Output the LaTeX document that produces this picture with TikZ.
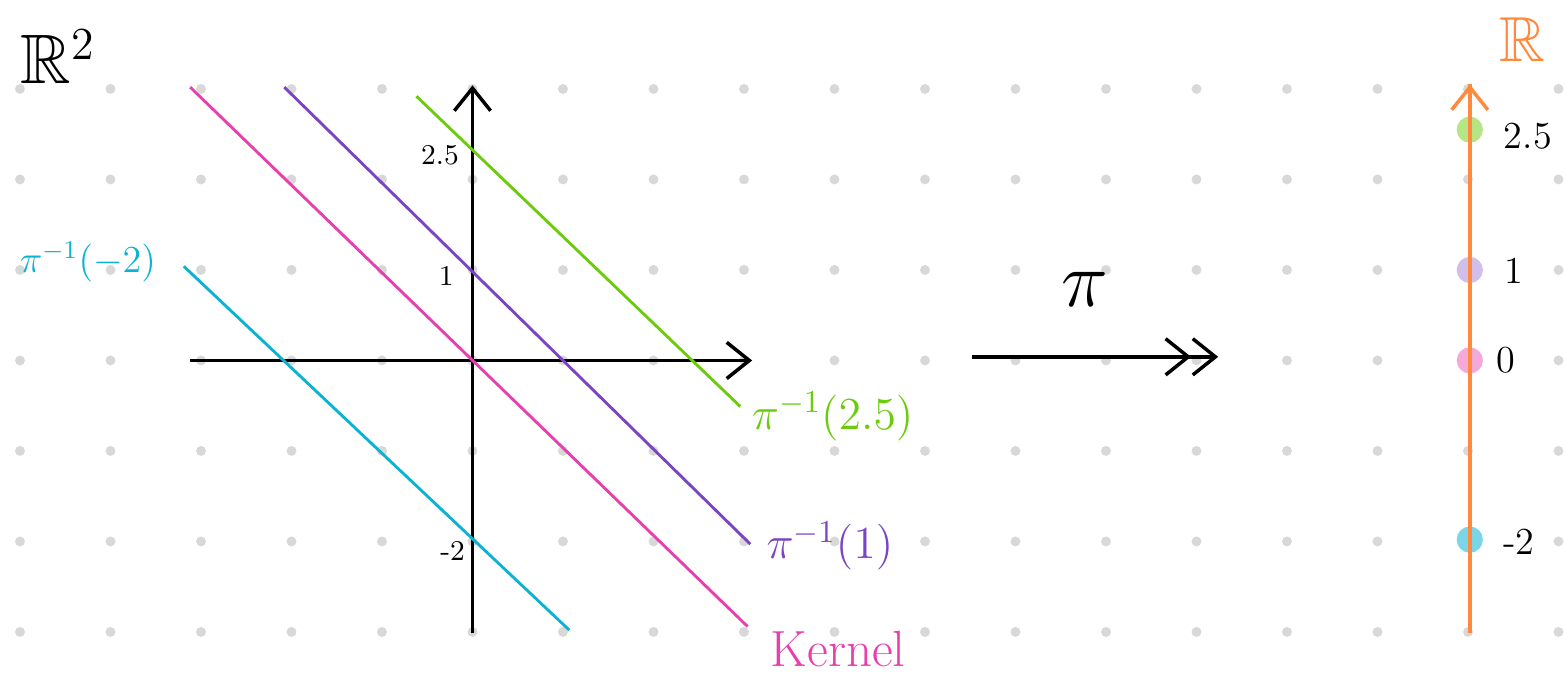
\documentclass[tikz,border=0pt]{standalone}
\usepackage{amssymb}
\usepackage{xcolor}
\usetikzlibrary{arrows.meta}
\definecolor{kernpink}{HTML}{E83FAE}
\definecolor{fibpurple}{HTML}{7B45C2}
\definecolor{fibgreen}{HTML}{6BCB0C}
\definecolor{fibcyan}{HTML}{0BB3D3}
\definecolor{lineorange}{HTML}{FF8A3D}
\definecolor{dotgray}{HTML}{D8D8D8}

\tikzset{
  axis/.style={line width=1.1pt, black, -{Straight Barb[length=2.5mm, width=4mm]}},
  fibre/.style={line width=0.9pt},
  tick/.style={font=\small},
  marker/.style={circle, minimum size=2.9mm, inner sep=0pt},
  value/.style={anchor=west, inner sep=0pt, font=\large},
}

\begin{document}
\begin{tikzpicture}
  \useasboundingbox (-5.221,-3.453) rectangle (12.083,3.983);

  % dot grid
  \foreach \x in {-5,...,12}
    \foreach \y in {-3,...,3}
      \fill[dotgray] (\x,\y) circle (0.055);

  % the plane
  \coordinate (xl) at (-3.12, 0);
  \coordinate (xr) at ( 3.09, 0);
  \coordinate (yb) at ( 0, -3.01);
  \coordinate (yt) at ( 0,  3.04);
  \draw[axis] (xl) -- (xr);
  \draw[axis] (yb) -- (yt);

  \coordinate (k1) at (-3.12,  3.02);
  \coordinate (k2) at ( 3.04, -2.94);
  \coordinate (p1) at (-2.08,  3.02);
  \coordinate (p2) at ( 3.07, -2.03);
  \coordinate (g1) at (-0.62,  2.92);
  \coordinate (g2) at ( 2.96, -0.51);
  \coordinate (c1) at (-3.19,  1.04);
  \coordinate (c2) at ( 1.07, -2.98);
  \draw[fibre, kernpink]  (k1) -- (k2);
  \draw[fibre, fibpurple] (p1) -- (p2);
  \draw[fibre, fibgreen]  (g1) -- (g2);
  \draw[fibre, fibcyan]   (c1) -- (c2);

  \node[anchor=west, inner sep=0pt] (r2) at (-5.0, 3.36) {\fontsize{22}{26}\selectfont$\mathbb{R}^2$};
  \node[tick] (t25) at (-0.36,  2.27) {2.5};
  \node[tick] (t1)  at (-0.29,  0.93) {1};
  \node[tick] (tm2) at (-0.22, -2.10) {-2};

  \node[fibcyan]   (lc) at (-4.25,  1.09) {\large$\pi^{-1}(-2)$};
  \node[fibgreen]  (lg) at ( 3.98, -0.62) {\Large$\pi^{-1}(2.5)$};
  \node[fibpurple] (lp) at ( 3.95, -2.05) {\Large$\pi^{-1}(1)$};
  \node[kernpink, anchor=base west, inner sep=0pt] (lk) at (3.29, -3.38) {\fontsize{16}{20}\selectfont Kernel};

  % the map
  \coordinate (ma) at (5.52, 0.04);
  \coordinate (mb) at (8.24, 0.04);
  \draw[line width=1.1pt, -{Straight Barb[length=2.5mm, width=4mm] Straight Barb[length=2.5mm, width=4mm]}] (ma) -- (mb);
  \node (pi) at (6.77, 0.78) {\fontsize{24}{28}\selectfont$\pi$};

  % the line
  \coordinate (rb) at (11.02, -3.01);
  \coordinate (rt) at (11.02,  3.05);
  \draw[axis, lineorange] (rb) -- (rt);
  \node[lineorange] (rr) at (11.60, 3.54) {\fontsize{20}{24}\selectfont$\mathbb{R}$};

  \node[marker, fill=fibgreen!50]  (m25) at (11.02,  2.55) {};
  \node[marker, fill=fibpurple!35] (m1)  at (11.02,  1.00) {};
  \node[marker, fill=kernpink!45]  (m0)  at (11.02,  0.00) {};
  \node[marker, fill=fibcyan!55]   (mm2) at (11.02, -1.98) {};
  \draw[line width=1.1pt, lineorange] (rb) -- (rt);

  \node[value] (v25) at (11.39,  2.48) {2.5};
  \node[value] (v1)  at (11.40,  0.99) {1};
  \node[value] (v0)  at (11.31,  0.00) {0};
  \node[value] (vm2) at (11.38, -2.00) {-2};
\end{tikzpicture}
\end{document}
